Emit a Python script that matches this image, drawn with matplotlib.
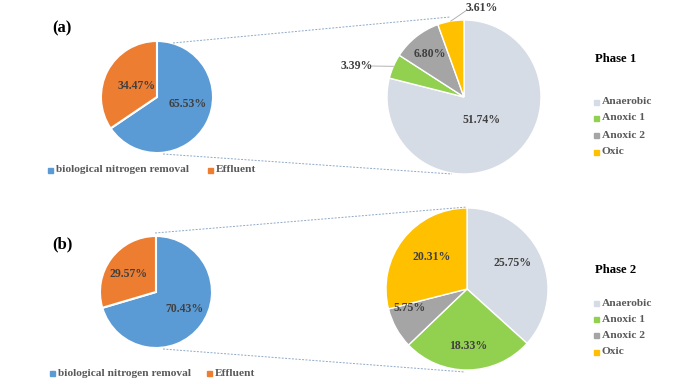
import matplotlib
matplotlib.use('Agg')
import matplotlib.pyplot as plt
import numpy as np

total_labels = ['biological nitrogen removal', 'Effluent']
phase1_total = [65.53, 34.47]
phase2_total = [70.43, 29.57]
zone_labels = ['Anaerobic', 'Anoxic 1', 'Anoxic 2', 'Oxic']
phase1_zone = [51.74, 3.39, 6.80, 3.61]
phase2_zone = [25.75, 18.33, 5.75, 20.31]

total_colors = ['#5B9BD5', '#ED7D31']
zone_colors = ['#D6DCE5', '#92D050', '#A5A5A5', '#FFC000']

W, H = 683, 384
FONT = 'Liberation Serif'
LBL = '#404040'
LEG = '#595959'

fig = plt.figure(figsize=(W / 100, H / 100), dpi=100)
ax = fig.add_axes([0, 0, 1, 1])


def py(y):
    return H - y


def draw_pie(values, cx, cy, r, colors, fracs, offs=None, explode=None, outside=None, lw=1.0):
    wedges, _ = ax.pie(values, colors=colors, startangle=90, counterclock=False,
                       center=(cx, py(cy)), radius=r, explode=explode,
                       wedgeprops=dict(edgecolor='white', linewidth=lw))
    outside = outside or {}
    offs = offs or {}
    for i, (w, v) in enumerate(zip(wedges, values)):
        mid = np.deg2rad((w.theta1 + w.theta2) / 2)
        c = w.center
        txt = f'{v:.2f}%'
        if i in outside:
            tx, ty, ha = outside[i]
            ex = c[0] + r * np.cos(mid)
            ey = c[1] + r * np.sin(mid)
            ax.text(tx, py(ty), txt, ha=ha, va='center', fontsize=8.5,
                    fontweight='bold', family=FONT, color=LBL)
            lx = tx + (3 if ha == 'left' else (-3 if ha == 'right' else -15))
            ly = py(ty) if ha != 'center' else py(ty + 2)
            ax.plot([lx, ex], [ly, ey], color='#A6A6A6', lw=0.6)
        else:
            f = fracs[i]
            dx, dy = offs.get(i, (0, 0))
            ax.text(c[0] + f * r * np.cos(mid) + dx, c[1] + f * r * np.sin(mid) - dy, txt,
                    ha='center', va='center', fontsize=8.5, fontweight='bold',
                    family=FONT, color=LBL)
    return wedges


# Phase 1
draw_pie(phase1_total, 157, 97, 56, total_colors, [0.62, 0.42],
         offs={0: (0, -9)}, explode=[0, 0.04], lw=1.5)
draw_pie(phase1_zone, 464, 97, 77, zone_colors, [0.38, 0.5, 0.72, 0.6],
         outside={1: (373, 66, 'right'), 3: (482, 8, 'center')})
# Phase 2
draw_pie(phase2_total, 156, 292, 56, total_colors, [0.6, 0.55],
         offs={0: (2, -3), 1: (-3, 0)}, explode=[0, 0.04], lw=1.5)
draw_pie(phase2_zone, 467, 289, 81, zone_colors, [0.62, 0.7, 0.8, 0.55],
         offs={0: (0, -6), 2: (-1, -12), 3: (0, -5)})

# connector lines
dash = dict(color='#8EA9C8', lw=0.7, ls=(0, (2, 1.5)))
ax.plot([173, 450], [py(43), py(17)], **dash)
ax.plot([163, 452], [py(154), py(174)], **dash)
ax.plot([155, 467], [py(233), py(207)], **dash)
ax.plot([163, 465], [py(349), py(372)], **dash)

# panel labels
ax.text(52, py(28), '(a)', fontsize=12, fontweight='bold', family=FONT, va='center', ha='left')
ax.text(52, py(244), '(b)', fontsize=12, fontweight='bold', family=FONT, va='center', ha='left')

# left legends
for ly, xs in [(170, [50, 210]), (373, [52, 209])]:
    for lab, col, x in zip(total_labels, total_colors, xs):
        ax.plot([x], [py(ly)], marker='s', ms=3.6, color=col, ls='none')
        ax.text(x + 6, py(ly), lab, fontsize=8.2, fontweight='bold', family=FONT,
                color=LEG, va='center', ha='left')

# right legends
for title, ty, ys in [('Phase 1', 59, [102, 118, 135, 152]),
                      ('Phase 2', 270, [303, 319, 335, 352])]:
    ax.text(595, py(ty), title, fontsize=9.2, fontweight='bold', family=FONT,
            va='center', ha='left')
    for lab, col, y in zip(zone_labels, zone_colors, ys):
        ax.plot([596], [py(y)], marker='s', ms=3.6, color=col, ls='none')
        ax.text(602, py(y), lab, fontsize=8.2, fontweight='bold', family=FONT,
                color=LEG, va='center', ha='left')

ax.set_xlim(0, W)
ax.set_ylim(0, H)
ax.set_aspect('auto')
ax.axis('off')
fig.savefig('out.png', dpi=100, facecolor='white')
